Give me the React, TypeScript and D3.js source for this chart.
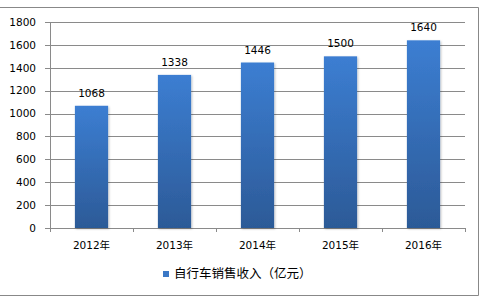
import React from "react";
import * as d3 from "d3";

const categories = ["2012年", "2013年", "2014年", "2015年", "2016年"];
const values = [1068, 1338, 1446, 1500, 1640];
const yTicks = [0, 200, 400, 600, 800, 1000, 1200, 1400, 1600, 1800];
const seriesName = "自行车销售收入（亿元）";

export default function App() {
  const W = 482, H = 302;
  const left = 50, right = 465, top = 22, bottom = 228;
  const x = d3.scaleBand<string>().domain(categories).range([left, right]).paddingInner(0.6).paddingOuter(0.3);
  const xb = d3.scaleBand<string>().domain(categories).range([left, right]);
  const y = d3.scaleLinear().domain([0, 1800]).range([bottom, top]);
  const font = "'DejaVu Sans', 'Noto Sans CJK SC', sans-serif";
  const cjk = "'Noto Sans CJK SC', sans-serif";
  return (
    <svg width={W} height={H} style={{ position: "absolute", left: 0, top: 0 }} fontFamily={font}>
      <defs>
        <linearGradient id="bg" x1="0" y1="0" x2="0" y2="1">
          <stop offset="0%" stopColor="#3C7ED2" />
          <stop offset="100%" stopColor="#2C5A97" />
        </linearGradient>
        <filter id="sh" x="-20%" y="-5%" width="140%" height="110%">
          <feDropShadow dx="1" dy="1" stdDeviation="1" floodColor="#000" floodOpacity="0.25" />
        </filter>
      </defs>
      <path d="M0,7.5H478.5V295.5H0" fill="none" stroke="#888" strokeWidth={1} />
      {yTicks.map((t) => (
        <line key={t} x1={left - 5} x2={right} y1={Math.round(y(t)) + 0.5} y2={Math.round(y(t)) + 0.5} stroke="#8a8a8a" strokeWidth={1} />
      ))}
      <line x1={left + 0.5} x2={left + 0.5} y1={top} y2={bottom + 4} stroke="#8a8a8a" />
      {categories.map((c) => (
        <line key={c} x1={Math.round((xb(c) as number) + xb.bandwidth()) + 0.5} x2={Math.round((xb(c) as number) + xb.bandwidth()) + 0.5} y1={bottom} y2={bottom + 4} stroke="#8a8a8a" />
      ))}
      {yTicks.map((t) => (
        <text key={t} x={36} y={y(t)} dy="0.36em" textAnchor="end" fontSize={10.5} fill="#000">{t}</text>
      ))}
      {categories.map((c, i) => (
        <g key={c}>
          <rect x={x(c)} y={y(values[i])} width={x.bandwidth()} height={bottom - y(values[i])} fill="url(#bg)" filter="url(#sh)" />
          <text x={(x(c) as number) + x.bandwidth() / 2} y={y(values[i]) - 9} textAnchor="middle" fontSize={10.5} fill="#000">{values[i]}</text>
          <text x={(x(c) as number) + x.bandwidth() / 2} y={249} textAnchor="middle" fontSize={10.5} fill="#000">{c}</text>
        </g>
      ))}
      <rect x={163} y={271} width={6} height={6} fill="#3B78C6" />
      <text x={174} y={278} fontSize={12.5} fontFamily={cjk} fill="#000">{seriesName}</text>
    </svg>
  );
}
